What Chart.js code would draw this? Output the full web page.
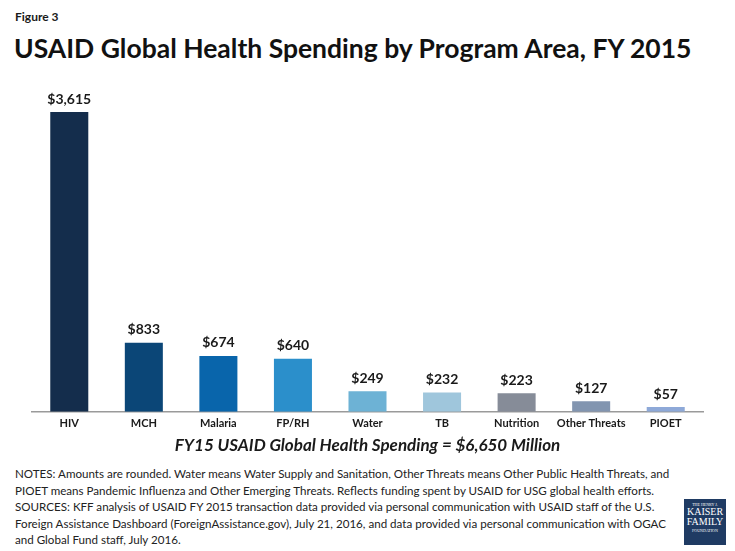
<!DOCTYPE html>
<html>
<head>
<meta charset="utf-8">
<script src="https://cdn.jsdelivr.net/npm/chart.js@4"></script>
<style>
  body { margin: 0; background: #fff; font-family: Lato, "Open Sans", sans-serif; color: #1a1a1a; }
  #page { position: relative; width: 735px; height: 551px; overflow: hidden; }
  .abs { position: absolute; white-space: nowrap; }
  #fig { left: 15px; top: 9px; font-size: 12px; font-weight: bold; }
  #title { left: 14px; top: 32px; font-size: 26.5px; font-weight: bold; color: #111; }
  #box { position: absolute; left: 0; top: 80px; width: 735px; height: 355px; }
  #sub { left: 0; width: 735px; text-align: center; top: 434px; font-size: 17px; font-weight: bold; font-style: italic; }
  #notes { left: 15px; top: 466px; font-size: 11.6px; line-height: 16.6px; color: #222; }
  #logo { left: 684px; top: 499px; width: 42px; height: 46px; background: #1f3b63; color: #fff;
          font-family: "Liberation Serif", serif; text-align: center; line-height: 1; }
  #logo .s { font-size: 4px; padding-top: 4px; }
  #logo .b { font-size: 10px; }
</style>
</head>
<body>
<div id="page">
  <div id="fig" class="abs">Figure 3</div>
  <div id="title" class="abs">USAID Global Health Spending by Program Area, FY 2015</div>
  <div id="box"><canvas id="c"></canvas></div>
  <div id="sub" class="abs">FY15 USAID Global Health Spending = $6,650 Million</div>
  <div id="notes" class="abs">NOTES: Amounts are rounded. Water means Water Supply and Sanitation, Other Threats means Other Public Health Threats, and<br>PIOET means Pandemic Influenza and Other Emerging Threats. Reflects funding spent by USAID for USG global health efforts.<br>SOURCES: KFF analysis of USAID FY 2015 transaction data provided via personal communication with USAID staff of the U.S.<br>Foreign Assistance Dashboard (ForeignAssistance.gov), July 21, 2016, and data provided via personal communication with OGAC<br>and Global Fund staff, July 2016.</div>
  <div id="logo" class="abs"><div class="s">THE HENRY J.</div><div class="b">KAISER</div><div class="b">FAMILY</div><div class="s" style="padding-top:2px">FOUNDATION</div></div>
</div>
<script>
const programAreas = ["HIV", "MCH", "Malaria", "FP/RH", "Water", "TB", "Nutrition", "Other Threats", "PIOET"];
const spending = [3615, 833, 674, 640, 249, 232, 223, 127, 57];
const barColors = ["#142d4c", "#0b4677", "#0965ab", "#2b8fcb", "#6db2d5", "#9fc6dc", "#868c98", "#8295b0", "#8ea9d8"];

// draws the $ amounts above each bar
const valueLabels = {
  id: "valueLabels",
  afterDatasetsDraw(chart) {
    const ctx = chart.ctx;
    const meta = chart.getDatasetMeta(0);
    ctx.save();
    ctx.font = "bold 14px Lato, sans-serif";
    ctx.fillStyle = "#1a1a1a";
    ctx.textAlign = "center";
    ctx.textBaseline = "bottom";
    meta.data.forEach((bar, i) => {
      ctx.fillText("$" + spending[i].toLocaleString("en-US"), bar.x, bar.y - 6);
    });
    ctx.restore();
  },
};

new Chart(document.getElementById("c"), {
  type: "bar",
  data: {
    labels: programAreas,
    datasets: [
      {
        data: spending,
        backgroundColor: barColors,
        categoryPercentage: 1,
        barPercentage: 0.51,
      },
    ],
  },
  options: {
    responsive: true,
    maintainAspectRatio: false,
    animation: false,
    layout: { padding: { left: 32, right: 32, top: 20, bottom: 0 } },
    plugins: {
      legend: { display: false },
      tooltip: { enabled: false },
    },
    scales: {
      x: {
        grid: { display: false, drawTicks: false },
        border: { display: true, color: "#9a9a9a", width: 1.5 },
        ticks: {
          color: "#1a1a1a",
          font: { family: "Lato", size: 11, weight: "bold" },
          maxRotation: 0,
          autoSkip: false,
          padding: 5,
        },
      },
      y: {
        display: false,
        min: 0,
        max: 3760,
      },
    },
  },
  plugins: [valueLabels],
});
</script>
</body>
</html>
